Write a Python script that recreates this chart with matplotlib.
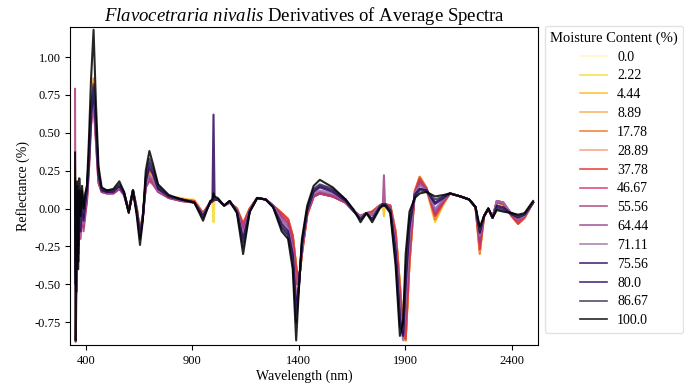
import numpy as np
import matplotlib
matplotlib.use('Agg')
import matplotlib.pyplot as plt

plt.rcParams['font.family'] = ['Liberation Serif', 'DejaVu Serif']
plt.rcParams['mathtext.fontset'] = 'custom'
plt.rcParams['mathtext.rm'] = 'Liberation Serif'
plt.rcParams['mathtext.it'] = 'Liberation Serif:italic'
plt.rcParams['axes.unicode_minus'] = False

# Comprimentos de onda (nm)
wavelength = [350, 353, 356, 360, 365, 370, 376, 383, 390, 398,
              406, 415, 425, 437, 448, 460, 475, 500, 530, 558,
              580, 602, 622, 640, 655, 668, 682, 699, 715, 740,
              790, 850, 910, 951, 985, 995, 1000, 1005, 1020, 1050,
              1076, 1110, 1139, 1170, 1205, 1245, 1280, 1320, 1350, 1372,
              1388, 1400, 1415, 1440, 1470, 1499, 1560, 1620, 1660, 1690,
              1718, 1745, 1780, 1795, 1800, 1805, 1830, 1855, 1875, 1890,
              1902, 1920, 1945, 1968, 2000, 2040, 2080, 2110, 2160, 2200,
              2230, 2250, 2270, 2290, 2310, 2330, 2360, 2400, 2430, 2460, 2500]

moisture = ['0.0', '2.22', '4.44', '8.89', '17.78', '28.89', '37.78', '46.67',
            '55.56', '64.44', '71.11', '75.56', '80.0', '86.67', '100.0']

d_0_0 = [0.10, -0.20, 0.00, 0.05, -0.20, 0.10, -0.10, 0.05, -0.08, 0.02,
         0.10, 0.30, 0.60, 0.78, 0.50, 0.20, 0.12, 0.11, 0.11, 0.14,
         0.10, -0.01, 0.12, 0.00, -0.14, -0.05, 0.15, 0.20, 0.18, 0.12,
         0.08, 0.06, 0.05, -0.03, 0.04, 0.05, 0.05, 0.06, 0.06, 0.02,
         0.04, 0.00, -0.09, 0.00, 0.07, 0.06, 0.02, -0.03, -0.07, -0.18,
         -0.36, -0.48, -0.30, -0.04, 0.08, 0.10, 0.08, 0.04, -0.02, -0.05,
         -0.03, -0.02, 0.02, 0.03, 0.03, 0.03, 0.02, -0.15, -0.50, -0.78,
         -0.86, -0.35, 0.10, 0.20, 0.12, -0.08, 0.03, 0.10, 0.08, 0.06,
         0.01, -0.26, -0.05, 0.00, -0.06, 0.04, 0.03, -0.05, -0.10, -0.06, 0.04]
d_2_22 = [0.20, -0.10, -0.25, 0.10, -0.10, 0.05, -0.05, 0.00, -0.10, 0.00,
          0.08, 0.30, 0.62, 0.80, 0.52, 0.20, 0.12, 0.11, 0.11, 0.14,
          0.10, -0.01, 0.12, 0.00, -0.15, -0.05, 0.15, 0.21, 0.18, 0.12,
          0.08, 0.06, 0.06, -0.03, 0.04, 0.05, -0.09, 0.06, 0.06, 0.02,
          0.04, 0.00, -0.10, 0.00, 0.07, 0.06, 0.02, -0.03, -0.07, -0.18,
          -0.37, -0.48, -0.30, -0.04, 0.08, 0.10, 0.08, 0.04, -0.02, -0.05,
          -0.03, -0.02, 0.02, 0.03, 0.03, 0.03, 0.02, -0.15, -0.50, -0.78,
          -0.86, -0.35, 0.10, 0.20, 0.12, -0.09, 0.03, 0.10, 0.08, 0.06,
          0.01, -0.27, -0.05, 0.00, -0.06, 0.04, 0.03, -0.05, -0.10, -0.06, 0.04]
d_4_44 = [0.27, 0.05, 0.15, 0.00, -0.25, 0.12, -0.12, 0.08, -0.05, 0.03,
          0.10, 0.30, 0.62, 0.82, 0.52, 0.21, 0.12, 0.11, 0.11, 0.14,
          0.10, -0.01, 0.12, 0.00, -0.15, -0.05, 0.16, 0.23, 0.20, 0.13,
          0.08, 0.07, 0.05, -0.03, 0.04, 0.05, 0.05, 0.06, 0.06, 0.02,
          0.04, 0.00, -0.10, 0.00, 0.07, 0.06, 0.02, -0.03, -0.07, -0.18,
          -0.38, -0.49, -0.30, -0.04, 0.08, 0.10, 0.08, 0.04, -0.02, -0.05,
          -0.03, -0.02, 0.02, 0.03, -0.05, 0.03, 0.02, -0.15, -0.50, -0.79,
          -0.87, -0.36, 0.11, 0.21, 0.13, -0.08, 0.03, 0.10, 0.08, 0.06,
          0.01, -0.28, -0.05, 0.00, -0.06, 0.04, 0.03, -0.05, -0.10, -0.06, 0.04]
d_8_89 = [0.15, -0.30, -0.10, 0.08, -0.15, 0.08, -0.08, 0.02, -0.10, 0.00,
          0.10, 0.32, 0.65, 0.83, 0.55, 0.22, 0.12, 0.11, 0.11, 0.14,
          0.10, -0.01, 0.12, 0.00, -0.15, -0.05, 0.16, 0.24, 0.21, 0.13,
          0.08, 0.06, 0.05, -0.03, 0.04, 0.05, 0.05, 0.06, 0.06, 0.02,
          0.04, 0.00, -0.10, 0.00, 0.07, 0.06, 0.02, -0.03, -0.07, -0.18,
          -0.38, -0.49, -0.30, -0.04, 0.08, 0.10, 0.08, 0.04, -0.02, -0.05,
          -0.03, -0.02, 0.02, 0.03, 0.03, 0.03, 0.02, -0.15, -0.50, -0.79,
          -0.87, -0.36, 0.11, 0.21, 0.13, -0.07, 0.04, 0.10, 0.08, 0.06,
          0.01, -0.29, -0.05, 0.00, -0.06, 0.04, 0.03, -0.05, -0.10, -0.06, 0.04]
d_17_78 = [0.05, -0.15, -0.35, 0.10, -0.30, 0.00, -0.15, 0.05, -0.12, -0.02,
           0.08, 0.30, 0.65, 0.86, 0.56, 0.22, 0.12, 0.11, 0.11, 0.14,
           0.10, -0.01, 0.12, 0.00, -0.16, -0.05, 0.16, 0.25, 0.22, 0.13,
           0.08, 0.06, 0.05, -0.03, 0.04, 0.05, 0.05, 0.06, 0.06, 0.02,
           0.04, 0.00, -0.11, 0.00, 0.07, 0.06, 0.02, -0.03, -0.07, -0.18,
           -0.38, -0.50, -0.30, -0.04, 0.08, 0.10, 0.08, 0.04, -0.02, -0.05,
           -0.03, -0.02, 0.02, 0.03, 0.03, 0.03, 0.02, -0.15, -0.50, -0.80,
           -0.87, -0.36, 0.12, 0.21, 0.14, -0.07, 0.04, 0.10, 0.08, 0.06,
           0.01, -0.30, -0.05, 0.00, -0.06, 0.04, 0.03, -0.05, -0.10, -0.06, 0.04]
d_28_89 = [0.12, -0.25, -0.10, 0.00, -0.25, 0.05, -0.10, 0.00, -0.08, 0.02,
           0.10, 0.30, 0.62, 0.80, 0.52, 0.20, 0.12, 0.11, 0.11, 0.14,
           0.10, -0.01, 0.12, 0.00, -0.15, -0.05, 0.15, 0.22, 0.19, 0.12,
           0.08, 0.06, 0.05, -0.03, 0.04, 0.05, 0.05, 0.06, 0.06, 0.02,
           0.04, 0.00, -0.10, 0.00, 0.07, 0.06, 0.02, -0.03, -0.07, -0.18,
           -0.38, -0.49, -0.30, -0.04, 0.08, 0.10, 0.08, 0.04, -0.02, -0.05,
           -0.03, -0.02, 0.02, 0.03, 0.03, 0.03, 0.02, -0.15, -0.51, -0.80,
           -0.86, -0.35, 0.11, 0.20, 0.13, -0.06, 0.04, 0.10, 0.08, 0.06,
           0.01, -0.28, -0.05, 0.00, -0.06, 0.04, 0.03, -0.05, -0.10, -0.06, 0.04]
d_37_78 = [0.08, -0.35, -0.20, -0.05, -0.20, 0.10, -0.05, 0.03, -0.10, 0.00,
           0.10, 0.30, 0.62, 0.80, 0.52, 0.20, 0.12, 0.11, 0.11, 0.14,
           0.10, -0.01, 0.12, 0.00, -0.15, -0.05, 0.15, 0.21, 0.18, 0.12,
           0.08, 0.06, 0.05, -0.03, 0.04, 0.05, 0.05, 0.06, 0.06, 0.02,
           0.04, 0.00, -0.10, 0.00, 0.07, 0.06, 0.02, -0.03, -0.07, -0.18,
           -0.38, -0.49, -0.30, -0.04, 0.08, 0.10, 0.08, 0.04, -0.02, -0.05,
           -0.03, -0.02, 0.02, 0.03, 0.03, 0.03, 0.02, -0.16, -0.52, -0.80,
           -0.86, -0.35, 0.11, 0.20, 0.13, -0.05, 0.04, 0.10, 0.08, 0.06,
           0.01, -0.27, -0.05, 0.00, -0.06, 0.04, 0.03, -0.05, -0.10, -0.06, 0.04]
d_46_67 = [0.18, -0.30, -0.10, -0.15, -0.30, 0.00, -0.15, -0.05, -0.12, -0.03,
           0.05, 0.25, 0.55, 0.72, 0.45, 0.17, 0.11, 0.10, 0.10, 0.13,
           0.09, -0.02, 0.11, -0.01, -0.16, -0.06, 0.14, 0.18, 0.16, 0.11,
           0.07, 0.05, 0.04, -0.04, 0.04, 0.05, 0.06, 0.06, 0.06, 0.02,
           0.04, -0.01, -0.12, -0.01, 0.07, 0.06, 0.02, -0.05, -0.09, -0.22,
           -0.48, -0.50, -0.28, -0.03, 0.08, 0.10, 0.08, 0.04, -0.02, -0.05,
           -0.03, -0.04, 0.02, 0.03, 0.03, 0.03, 0.01, -0.20, -0.58, -0.83,
           -0.76, -0.28, 0.10, 0.18, 0.13, -0.04, 0.05, 0.10, 0.08, 0.06,
           0.01, -0.23, -0.05, 0.00, -0.06, 0.05, 0.04, -0.04, -0.08, -0.05, 0.04]
d_55_56 = [0.79, -0.88, -0.63, -0.35, -0.20, -0.05, -0.20, -0.02, -0.15, -0.05,
           0.05, 0.25, 0.55, 0.70, 0.45, 0.17, 0.11, 0.10, 0.10, 0.13,
           0.09, -0.02, 0.11, -0.01, -0.16, -0.06, 0.14, 0.19, 0.17, 0.11,
           0.07, 0.05, 0.04, -0.04, 0.04, 0.05, 0.06, 0.06, 0.06, 0.02,
           0.04, -0.01, -0.13, -0.01, 0.07, 0.06, 0.02, -0.05, -0.10, -0.23,
           -0.50, -0.50, -0.28, -0.03, 0.08, 0.10, 0.08, 0.04, -0.02, -0.05,
           -0.03, -0.04, 0.02, 0.03, 0.03, 0.03, 0.01, -0.21, -0.60, -0.84,
           -0.74, -0.26, 0.10, 0.18, 0.13, -0.03, 0.05, 0.10, 0.08, 0.06,
           0.01, -0.22, -0.05, 0.00, -0.06, 0.05, 0.04, -0.04, -0.08, -0.05, 0.04]
d_64_44 = [0.10, -0.40, 0.00, -0.20, -0.15, 0.08, -0.10, 0.05, -0.08, 0.00,
           0.10, 0.30, 0.58, 0.75, 0.48, 0.19, 0.11, 0.10, 0.10, 0.13,
           0.09, -0.02, 0.11, -0.01, -0.16, -0.06, 0.15, 0.21, 0.18, 0.12,
           0.07, 0.05, 0.04, -0.04, 0.04, 0.05, 0.06, 0.06, 0.06, 0.02,
           0.04, -0.01, -0.15, -0.01, 0.07, 0.06, 0.02, -0.07, -0.12, -0.26,
           -0.58, -0.52, -0.26, -0.02, 0.09, 0.11, 0.09, 0.04, -0.02, -0.05,
           -0.03, -0.04, 0.02, 0.03, 0.22, 0.03, 0.00, -0.24, -0.64, -0.86,
           -0.65, -0.22, 0.10, 0.16, 0.13, -0.01, 0.06, 0.10, 0.08, 0.06,
           0.01, -0.19, -0.05, 0.00, -0.06, 0.05, 0.04, -0.04, -0.07, -0.05, 0.04]
d_71_11 = [0.05, -0.20, -0.45, 0.05, -0.30, 0.00, -0.12, 0.00, -0.10, 0.02,
           0.10, 0.30, 0.60, 0.76, 0.50, 0.20, 0.12, 0.11, 0.11, 0.14,
           0.10, -0.01, 0.12, 0.00, -0.15, -0.05, 0.15, 0.22, 0.19, 0.12,
           0.08, 0.06, 0.04, -0.04, 0.04, 0.05, 0.06, 0.06, 0.06, 0.02,
           0.04, -0.01, -0.17, -0.01, 0.07, 0.06, 0.02, -0.08, -0.13, -0.27,
           -0.60, -0.52, -0.26, -0.02, 0.10, 0.12, 0.10, 0.05, -0.02, -0.05,
           -0.03, -0.04, 0.02, 0.03, 0.03, 0.03, 0.00, -0.25, -0.66, -0.87,
           -0.60, -0.20, 0.10, 0.15, 0.12, 0.00, 0.06, 0.10, 0.08, 0.06,
           0.01, -0.18, -0.05, 0.00, -0.06, 0.05, 0.04, -0.04, -0.07, -0.05, 0.04]
d_75_56 = [0.15, -0.50, -0.20, 0.10, -0.25, 0.12, -0.08, 0.10, -0.05, 0.05,
           0.12, 0.30, 0.62, 0.80, 0.55, 0.22, 0.12, 0.11, 0.11, 0.15,
           0.10, -0.02, 0.12, -0.02, -0.18, -0.06, 0.18, 0.27, 0.23, 0.13,
           0.08, 0.06, 0.04, -0.05, 0.04, 0.05, 0.62, 0.06, 0.06, 0.02,
           0.05, -0.02, -0.20, -0.02, 0.07, 0.06, 0.01, -0.10, -0.15, -0.30,
           -0.66, -0.52, -0.24, -0.01, 0.11, 0.14, 0.11, 0.05, -0.02, -0.07,
           -0.03, -0.07, 0.01, 0.03, 0.03, 0.03, -0.01, -0.28, -0.72, -0.84,
           -0.50, -0.12, 0.09, 0.13, 0.12, 0.03, 0.07, 0.10, 0.08, 0.06,
           0.01, -0.16, -0.05, 0.00, -0.06, 0.02, 0.01, -0.04, -0.06, -0.04, 0.04]
d_80_0 = [0.00, -0.30, -0.55, -0.10, -0.35, 0.05, -0.15, 0.05, -0.08, 0.03,
          0.12, 0.32, 0.62, 0.78, 0.55, 0.22, 0.13, 0.11, 0.12, 0.15,
          0.10, -0.02, 0.12, -0.02, -0.18, -0.06, 0.19, 0.30, 0.25, 0.14,
          0.08, 0.06, 0.04, -0.05, 0.04, 0.05, 0.08, 0.06, 0.06, 0.02,
          0.05, -0.02, -0.22, -0.02, 0.07, 0.06, 0.01, -0.12, -0.17, -0.32,
          -0.70, -0.52, -0.24, -0.01, 0.12, 0.15, 0.12, 0.06, -0.02, -0.07,
          -0.03, -0.07, 0.01, 0.03, 0.02, 0.03, -0.01, -0.30, -0.74, -0.82,
          -0.45, -0.10, 0.09, 0.13, 0.12, 0.04, 0.08, 0.10, 0.08, 0.06,
          0.01, -0.15, -0.05, 0.00, -0.06, 0.01, 0.00, -0.03, -0.05, -0.04, 0.04]
d_86_67 = [0.20, -0.45, -0.10, 0.15, -0.20, 0.10, -0.10, 0.12, -0.03, 0.08,
           0.15, 0.35, 0.68, 0.82, 0.58, 0.24, 0.13, 0.12, 0.12, 0.16,
           0.11, -0.02, 0.12, -0.03, -0.20, -0.07, 0.21, 0.33, 0.27, 0.15,
           0.08, 0.06, 0.04, -0.06, 0.05, 0.05, 0.08, 0.06, 0.06, 0.02,
           0.05, -0.02, -0.25, -0.02, 0.07, 0.06, 0.01, -0.13, -0.18, -0.35,
           -0.75, -0.54, -0.22, 0.00, 0.13, 0.16, 0.13, 0.06, -0.02, -0.07,
           -0.03, -0.07, 0.01, 0.03, 0.02, 0.03, -0.02, -0.33, -0.78, -0.80,
           -0.40, -0.06, 0.08, 0.12, 0.11, 0.06, 0.08, 0.10, 0.08, 0.06,
           0.01, -0.14, -0.05, 0.00, -0.06, 0.00, -0.01, -0.03, -0.05, -0.04, 0.04]
d_100_0 = [0.37, -0.87, -0.30, 0.18, -0.40, 0.20, -0.05, 0.15, 0.00, 0.10,
           0.15, 0.45, 0.85, 1.18, 0.70, 0.28, 0.14, 0.12, 0.13, 0.18,
           0.11, -0.03, 0.12, -0.05, -0.24, -0.08, 0.25, 0.38, 0.30, 0.16,
           0.09, 0.06, 0.04, -0.08, 0.05, 0.06, 0.10, 0.08, 0.07, 0.02,
           0.05, -0.03, -0.30, -0.02, 0.07, 0.06, 0.01, -0.15, -0.20, -0.40,
           -0.87, -0.55, -0.20, 0.02, 0.15, 0.19, 0.14, 0.06, -0.01, -0.09,
           -0.03, -0.09, 0.00, 0.02, 0.02, 0.02, -0.03, -0.38, -0.84, -0.75,
           -0.30, -0.02, 0.07, 0.10, 0.11, 0.08, 0.09, 0.10, 0.08, 0.06,
           0.01, -0.12, -0.05, 0.00, -0.06, -0.01, -0.02, -0.03, -0.04, -0.03, 0.05]

series = [d_0_0, d_2_22, d_4_44, d_8_89, d_17_78, d_28_89, d_37_78, d_46_67,
          d_55_56, d_64_44, d_71_11, d_75_56, d_80_0, d_86_67, d_100_0]

cores = ['#fdf6c0', '#f5dc2e', '#fbbb1a', '#f9a94f', '#f07318', '#f29c7c',
         '#e02c2c', '#d23565', '#ad3b78', '#9c428a', '#9d72aa', '#30045f',
         '#2e0c66', '#333052', '#000000']

fig, ax = plt.subplots(figsize=(6.84, 3.86), dpi=100)
fig.subplots_adjust(left=0.103, right=0.786, top=0.931, bottom=0.106)

for valores, rotulo, cor in zip(series, moisture, cores):
    ax.plot(wavelength, valores, color=cor, lw=1.5, alpha=0.85, label=rotulo)

ax.margins(x=0.01, y=0.01)
ax.set_xticks([400, 900, 1400, 1900, 2400])
ax.set_yticks([-0.75, -0.50, -0.25, 0.00, 0.25, 0.50, 0.75, 1.00])
ax.yaxis.set_major_formatter(matplotlib.ticker.FormatStrFormatter('%.2f'))
ax.tick_params(labelsize=9)

ax.set_xlabel('Wavelength (nm)', fontsize=10, labelpad=2)
ax.set_ylabel('Reflectance (%)', fontsize=10, labelpad=3)
ax.set_title(r'$\it{Flavocetraria\ nivalis}$ Derivatives of Average Spectra',
             fontsize=13.5, pad=4)

leg = ax.legend(title='Moisture Content (%)', loc='upper left',
                bbox_to_anchor=(1.015, 1.003), fontsize=10, title_fontsize=10.5,
                handlelength=2.0, handletextpad=0.7, labelspacing=0.42,
                frameon=True, fancybox=True, edgecolor='#dddddd',
                borderaxespad=0.0)
for linha in leg.get_lines():
    linha.set_linewidth(1.2)

plt.savefig('out.png', dpi=100)
